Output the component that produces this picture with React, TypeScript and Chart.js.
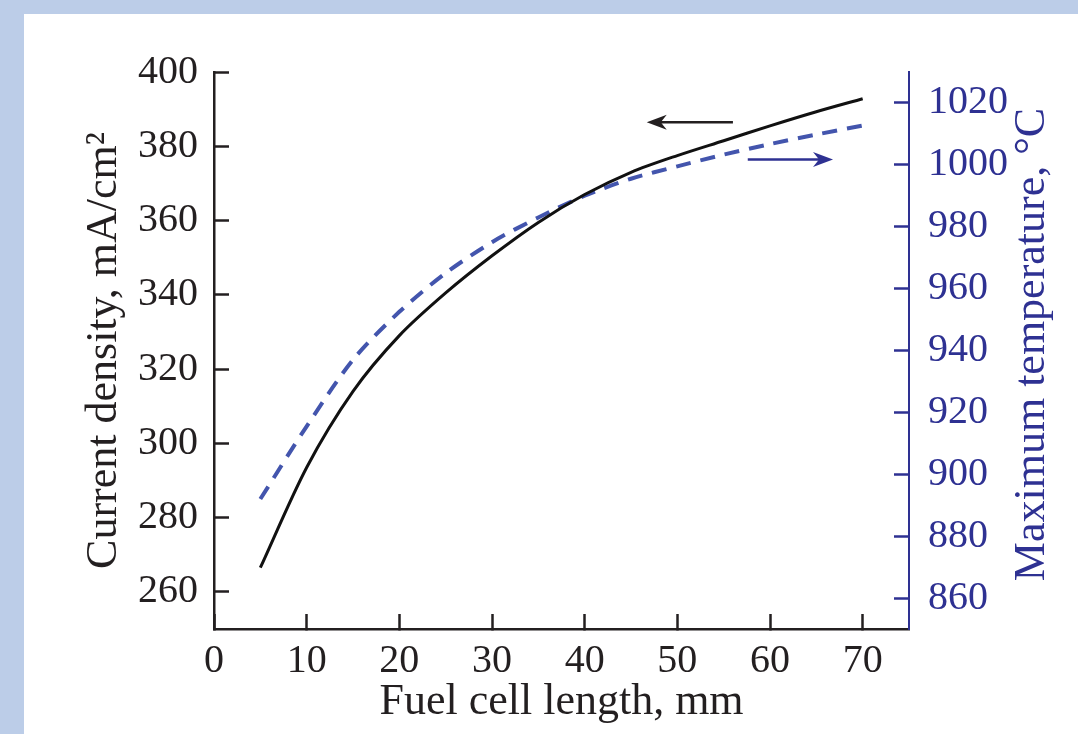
import React, { useEffect, useRef } from "react";
import { Chart, registerables } from "chart.js";

Chart.register(...registerables);

// ---- data ----
const fuelCellLength = [5, 10, 15, 20, 25, 30, 35, 40, 45, 50, 55, 60, 65, 70];
const currentDensity = [266.5, 293.5, 314, 329, 340.5, 350.5, 359.5, 367, 373, 377.5, 381.5, 385.5, 389.3, 392.8];
const maxTemperature = [892, 915.5, 937, 952.5, 965, 975, 983, 990, 995.5, 999.5, 1003.3, 1006.7, 1009.8, 1012.7];

const xTicks = [0, 10, 20, 30, 40, 50, 60, 70];
const leftTicks = [260, 280, 300, 320, 340, 360, 380, 400];
const rightTicks = [860, 880, 900, 920, 940, 960, 980, 1000, 1020];

const xTitle = "Fuel cell length, mm";
const leftTitle = "Current density, mA/cm²";
const rightTitle = "Maximum temperature, °C";

// arrows (data coordinates): [xFrom, xTo, yValue]
const blackArrow = [56, 46.7, 386.5];
const blueArrow = [57.6, 66.8, 1001.7];

const FONT = "'Liberation Serif', 'Times New Roman', serif";
const DARK = "#231f20";
const AXIS_BLUE = "#2e3192";
const LINE_BLUE = "#4355ad";

const plain = (v: any) => String(v);

function drawArrow(ctx: CanvasRenderingContext2D, x1: number, x2: number, y: number, color: string) {
  const dir = x2 > x1 ? 1 : -1;
  const headLen = 20;
  const halfW = 7.5;
  ctx.save();
  ctx.strokeStyle = color;
  ctx.fillStyle = color;
  ctx.lineWidth = 2.5;
  ctx.beginPath();
  ctx.moveTo(x1, y);
  ctx.lineTo(x2 - dir * headLen * 0.6, y);
  ctx.stroke();
  ctx.beginPath();
  ctx.moveTo(x2, y);
  ctx.lineTo(x2 - dir * headLen, y - halfW);
  ctx.lineTo(x2 - dir * headLen * 0.7, y);
  ctx.lineTo(x2 - dir * headLen, y + halfW);
  ctx.closePath();
  ctx.fill();
  ctx.restore();
}

const extrasPlugin = {
  id: "extras",
  afterDatasetsDraw(chart: any) {
    const { ctx, scales, chartArea } = chart;
    const x = scales.x;
    const yL = scales.y;
    const yR = scales.y1;
    drawArrow(ctx, x.getPixelForValue(blackArrow[0]), x.getPixelForValue(blackArrow[1]), yL.getPixelForValue(blackArrow[2]), DARK);
    drawArrow(ctx, x.getPixelForValue(blueArrow[0]), x.getPixelForValue(blueArrow[1]), yR.getPixelForValue(blueArrow[2]), AXIS_BLUE);
    // right axis title, reading bottom-to-top
    ctx.save();
    ctx.translate(yR.left + 123, (chartArea.top + chartArea.bottom) / 2 - 6);
    ctx.rotate(-Math.PI / 2);
    ctx.font = `44px ${FONT}`;
    ctx.fillStyle = AXIS_BLUE;
    ctx.textAlign = "center";
    ctx.textBaseline = "middle";
    ctx.fillText(rightTitle, 0, 0);
    ctx.restore();
  },
};

export default function App() {
  const ref = useRef<HTMLCanvasElement | null>(null);

  useEffect(() => {
    if (!ref.current) return;
    const chart = new Chart(ref.current, {
      type: "line",
      data: {
        labels: fuelCellLength,
        datasets: [
          {
            label: "Current density",
            data: fuelCellLength.map((v, i) => ({ x: v, y: currentDensity[i] })),
            borderColor: "#111111",
            borderWidth: 3,
            pointRadius: 0,
            tension: 0.3,
            yAxisID: "y",
            fill: false,
          },
          {
            label: "Maximum temperature",
            data: fuelCellLength.map((v, i) => ({ x: v, y: maxTemperature[i] })),
            borderColor: LINE_BLUE,
            borderWidth: 4,
            borderDash: [15, 10],
            pointRadius: 0,
            tension: 0.3,
            yAxisID: "y1",
            fill: false,
          },
        ],
      },
      options: {
        animation: false,
        responsive: false,
        maintainAspectRatio: false,
        layout: { padding: { top: 56, left: 0, right: 0, bottom: 0 } },
        plugins: { legend: { display: false }, tooltip: { enabled: false } },
        scales: {
          x: {
            type: "linear",
            min: 0,
            max: 75,
            afterBuildTicks: (s: any) => {
              s.ticks = xTicks.map((v) => ({ value: v }));
            },
            afterFit: (s: any) => {
              s.height = 105;
            },
            ticks: {
              color: DARK,
              font: { family: FONT, size: 40 },
              padding: 23,
              maxRotation: 0,
              autoSkip: false,
              callback: plain,
            },
            grid: {
              display: true,
              drawOnChartArea: false,
              drawTicks: true,
              tickLength: -15,
              tickWidth: 2.5,
              tickColor: DARK,
            },
            border: { display: true, color: DARK, width: 2.5 },
            title: {
              display: true,
              text: xTitle,
              color: DARK,
              font: { family: FONT, size: 44 },
              padding: { top: 0, bottom: 5 },
            },
          },
          y: {
            type: "linear",
            position: "left",
            min: 250,
            max: 400,
            afterBuildTicks: (s: any) => {
              s.ticks = leftTicks.map((v) => ({ value: v }));
            },
            afterFit: (s: any) => {
              s.width = 190;
            },
            ticks: {
              color: DARK,
              font: { family: FONT, size: 40 },
              padding: 31,
              autoSkip: false,
              callback: plain,
            },
            grid: {
              display: true,
              drawOnChartArea: false,
              drawTicks: true,
              tickLength: -15,
              tickWidth: 2.5,
              tickColor: DARK,
            },
            border: { display: true, color: DARK, width: 2.5 },
            title: {
              display: true,
              text: leftTitle,
              color: DARK,
              font: { family: FONT, size: 44 },
              padding: { top: 54, bottom: 0 },
            },
          },
          y1: {
            type: "linear",
            position: "right",
            min: 850,
            max: 1030,
            afterBuildTicks: (s: any) => {
              s.ticks = rightTicks.map((v) => ({ value: v }));
            },
            afterFit: (s: any) => {
              s.width = 169;
            },
            ticks: {
              color: AXIS_BLUE,
              font: { family: FONT, size: 40 },
              padding: 34,
              autoSkip: false,
              callback: plain,
            },
            grid: {
              display: true,
              drawOnChartArea: false,
              drawTicks: true,
              tickLength: -15,
              tickWidth: 2.5,
              tickColor: AXIS_BLUE,
            },
            border: { display: true, color: AXIS_BLUE, width: 2 },
            title: { display: false },
          },
        },
      },
      plugins: [extrasPlugin],
    } as any);
    return () => chart.destroy();
  }, []);

  return (
    <div
      style={{
        position: "fixed",
        left: 0,
        top: 0,
        width: 1078,
        height: 734,
        background: "#bccde8",
        overflow: "hidden",
      }}
    >
      <div
        style={{
          position: "absolute",
          left: 24,
          top: 14,
          width: 1054,
          height: 720,
          background: "#ffffff",
        }}
      >
        <canvas ref={ref} width={1054} height={720} style={{ display: "block" }} />
      </div>
    </div>
  );
}
